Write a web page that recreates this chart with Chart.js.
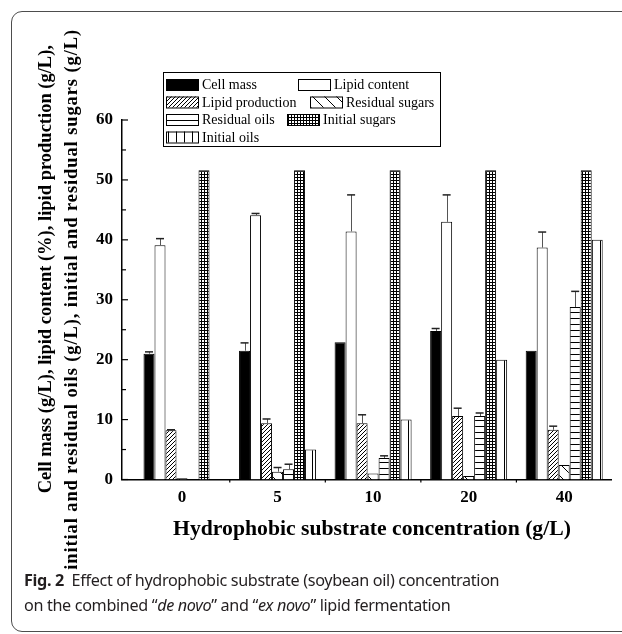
<!DOCTYPE html>
<html>
<head>
<meta charset="utf-8">
<script src="https://cdn.jsdelivr.net/npm/chart.js@4.4.0/dist/chart.umd.min.js"></script>
<style>
  html, body { margin: 0; padding: 0; background: #fff; }
  #page { position: relative; width: 622px; height: 634px; overflow: hidden; }
  /* cadre arrondi de la figure, ouvert à droite */
  #cadre { position: absolute; left: 10.5px; top: 10.5px; width: 700px; height: 619px;
           border: 1px solid #4d4d4d; border-radius: 11px; }
  #graphe { position: absolute; left: 0; top: 0; }
  .legende { position: absolute; left: 24px; font-family: 'Noto Sans', sans-serif; font-size: 16.2px;
             line-height: 25px; color: #231f20; white-space: nowrap; letter-spacing: -0.35px; }
</style>
</head>
<body>
<div id="page">
  <div id="cadre"></div>
  <canvas id="graphe" width="622" height="634"></canvas>
  <div class="legende" style="top:568px"><b>Fig. 2</b>&nbsp; Effect of hydrophobic substrate (soybean oil) concentration<br>on the combined “<i>de novo</i>” and “<i>ex novo</i>” lipid fermentation</div>
</div>
<script>
// --- Données ---
const CONCENTRATIONS = ['0', '5', '10', '20', '40'];

const masseCellulaire = [21.0, 21.5, 22.9, 24.8, 21.5];
const erreurMasse     = [0.3, 1.3, 0, 0.4, 0];

const teneurLipides   = [39.1, 44.1, 41.4, 43.0, 38.7];
const erreurTeneur    = [1.1, 0.3, 6.1, 4.5, 2.6];

const productionLipides = [8.2, 9.4, 9.4, 10.6, 8.3];
const erreurProduction  = [0.1, 0.7, 1.4, 1.3, 0.6];

const sucresResiduels = [0.2, 1.3, 1.0, 0.6, 2.4];
const erreurSucres    = [0, 0.7, 0, 0, 0];

const huilesResiduelles = [0, 1.7, 3.6, 10.6, 28.8];
const erreurHuiles      = [0, 0.85, 0.35, 0.5, 2.6];

const sucresInitiaux = [51.6, 51.6, 51.6, 51.6, 51.6];
const huilesInitiales = [0, 5, 10, 20, 40];

const Y_TICKS = [0, 10, 20, 30, 40, 50, 60];

// --- Motifs de remplissage (hachures) ---
function creerMotif(type) {
  const c = document.createElement('canvas');
  const tailles = { plein: 2, blanc: 2, obliques: 4, inverses: 12, horizontales: 6, grille: 3, verticales: 8 };
  const t = tailles[type];
  c.width = t; c.height = t;
  const g = c.getContext('2d');
  g.fillStyle = type === 'plein' ? '#000' : '#fff';
  g.fillRect(0, 0, t, t);
  g.strokeStyle = '#000';
  g.lineWidth = 1;
  g.beginPath();
  if (type === 'obliques') { // ////
    g.moveTo(-1, t + 1); g.lineTo(t + 1, -1);
    g.moveTo(-1, 1); g.lineTo(1, -1);
    g.moveTo(t - 1, t + 1); g.lineTo(t + 1, t - 1);
  } else if (type === 'inverses') { // \\\\
    g.moveTo(-1, -1); g.lineTo(t + 1, t + 1);
  } else if (type === 'horizontales') {
    g.moveTo(0, 0.5); g.lineTo(t, 0.5);
  } else if (type === 'grille') {
    g.moveTo(0.5, 0); g.lineTo(0.5, t);
    g.moveTo(0, 0.5); g.lineTo(t, 0.5);
  } else if (type === 'verticales') {
    g.moveTo(0.5, 0); g.lineTo(0.5, t);
  }
  g.stroke();
  return g.createPattern(c, 'repeat');
}

const ctx = document.getElementById('graphe').getContext('2d');

function serie(label, valeurs, erreurs, motif) {
  return {
    label: label,
    data: valeurs.map((v, i) => ({ x: i, y: v })),
    erreurs: erreurs,
    backgroundColor: creerMotif(motif),
    borderColor: '#000',
    borderWidth: 1,
    categoryPercentage: 0.806,
    barPercentage: 1
  };
}

const datasets = [
  serie('Cell mass', masseCellulaire, erreurMasse, 'plein'),
  serie('Lipid content', teneurLipides, erreurTeneur, 'blanc'),
  serie('Lipid production', productionLipides, erreurProduction, 'obliques'),
  serie('Residual sugars', sucresResiduels, erreurSucres, 'inverses'),
  serie('Residual oils', huilesResiduelles, erreurHuiles, 'horizontales'),
  serie('Initial sugars', sucresInitiaux, null, 'grille'),
  serie('Initial oils', huilesInitiales, null, 'verticales')
];

const SERIF_GRAS = { family: "'Liberation Serif', 'Times New Roman', serif", size: 17, weight: 'bold' };

// plugin : barres d'erreur, graduations, légende encadrée et titres des axes
const decor = {
  id: 'decor',
  afterDatasetsDraw(chart) {
    const c = chart.ctx;
    const sx = chart.scales.x, sy = chart.scales.y;
    c.save();

    // barres d'erreur (vers le haut seulement)
    chart.data.datasets.forEach((ds, i) => {
      if (!ds.erreurs) return;
      const meta = chart.getDatasetMeta(i);
      meta.data.forEach((el, j) => {
        const e = ds.erreurs[j];
        if (!e) return;
        const yHaut = sy.getPixelForValue(ds.data[j].y + e);
        c.strokeStyle = '#555';
        c.lineWidth = 1;
        c.beginPath();
        c.moveTo(Math.round(el.x) + 0.5, el.y);
        c.lineTo(Math.round(el.x) + 0.5, yHaut);
        c.stroke();
        c.strokeStyle = '#222';
        c.lineWidth = 1.5;
        c.beginPath();
        c.moveTo(el.x - 4, yHaut);
        c.lineTo(el.x + 4, yHaut);
        c.stroke();
      });
    });

    // graduations de l'axe Y (vers l'intérieur)
    c.strokeStyle = '#000';
    c.lineWidth = 1.2;
    for (let v = 0; v <= 60; v += 5) {
      const y = sy.getPixelForValue(v);
      c.beginPath();
      c.moveTo(sx.left, y);
      c.lineTo(sx.left + (v % 10 === 0 ? 6 : 4), y);
      c.stroke();
    }
    // petites graduations entre les groupes sur l'axe X
    for (let k = 0; k < CONCENTRATIONS.length - 1; k++) {
      const x = sx.getPixelForValue(k + 0.5);
      c.beginPath();
      c.moveTo(x, sy.bottom);
      c.lineTo(x, sy.bottom + 3);
      c.stroke();
    }

    // légende encadrée
    c.lineWidth = 1;
    c.strokeStyle = '#000';
    c.strokeRect(163.5, 72.5, 277, 74);
    const lignes = [[0, 1], [2, 3], [4, 5], [6]];
    const xCol2 = [298, 310, 287];
    const yLignes = [84.5, 102, 119.5, 137];
    c.font = "14px 'Liberation Serif', 'Times New Roman', serif";
    c.textBaseline = 'middle';
    c.textAlign = 'left';
    lignes.forEach((ligne, r) => {
      ligne.forEach((idx, k) => {
        const ds = chart.data.datasets[idx];
        const x = k === 0 ? 166 : xCol2[r];
        const y = yLignes[r];
        c.fillStyle = ds.backgroundColor;
        c.fillRect(x, y - 5.5, 33, 11);
        c.strokeRect(x + 0.5, y - 5, 32, 11);
        c.fillStyle = '#000';
        c.fillText(ds.label, x + 36, y + 1);
      });
    });

    // titres des axes
    c.fillStyle = '#000';
    c.textAlign = 'center';
    c.font = "bold 21.7px 'Liberation Serif', 'Times New Roman', serif";
    c.fillText('Hydrophobic substrate concentration (g/L)', 372, 529);
    c.font = "bold 18.5px 'Liberation Serif', 'Times New Roman', serif";
    c.textAlign = 'right';
    c.save();
    c.translate(46, 45);
    c.rotate(-Math.PI / 2);
    c.fillText('Cell mass (g/L), lipid content (%), lipid production (g/L),', 0, 0);
    c.restore();
    c.save();
    c.translate(72, 29);
    c.rotate(-Math.PI / 2);
    if ('letterSpacing' in c) c.letterSpacing = '0.9px';
    c.fillText('initial and residual oils (g/L), initial and residual sugars (g/L)', 0, 0);
    if ('letterSpacing' in c) c.letterSpacing = '0px';
    c.restore();

    c.restore();
  }
};

new Chart(ctx, {
  type: 'bar',
  data: { datasets: datasets },
  options: {
    responsive: false,
    animation: false,
    layout: { padding: { left: 0, right: 11, top: 120, bottom: 0 } },
    plugins: {
      legend: { display: false },
      tooltip: { enabled: false }
    },
    scales: {
      x: {
        type: 'linear',
        offset: false,
        min: -0.628,
        max: 4.49,
        grid: { display: false, drawTicks: false },
        border: { display: true, color: '#000', width: 1.5 },
        afterBuildTicks: (s) => { s.ticks = CONCENTRATIONS.map((_, i) => ({ value: i })); },
        afterFit: (s) => { s.height = 154.5; },
        ticks: {
          padding: 8,
          color: '#000',
          font: SERIF_GRAS,
          maxRotation: 0,
          autoSkip: false,
          callback: (v) => CONCENTRATIONS[v]
        }
      },
      y: {
        min: 0,
        max: 60,
        grid: { display: false, drawTicks: false },
        border: { display: true, color: '#000', width: 1.5 },
        afterBuildTicks: (s) => { s.ticks = Y_TICKS.map(v => ({ value: v })); },
        afterFit: (s) => { s.width = 122; },
        ticks: { padding: 9, color: '#000', font: SERIF_GRAS }
      }
    }
  },
  plugins: [decor]
});
</script>
</body>
</html>
